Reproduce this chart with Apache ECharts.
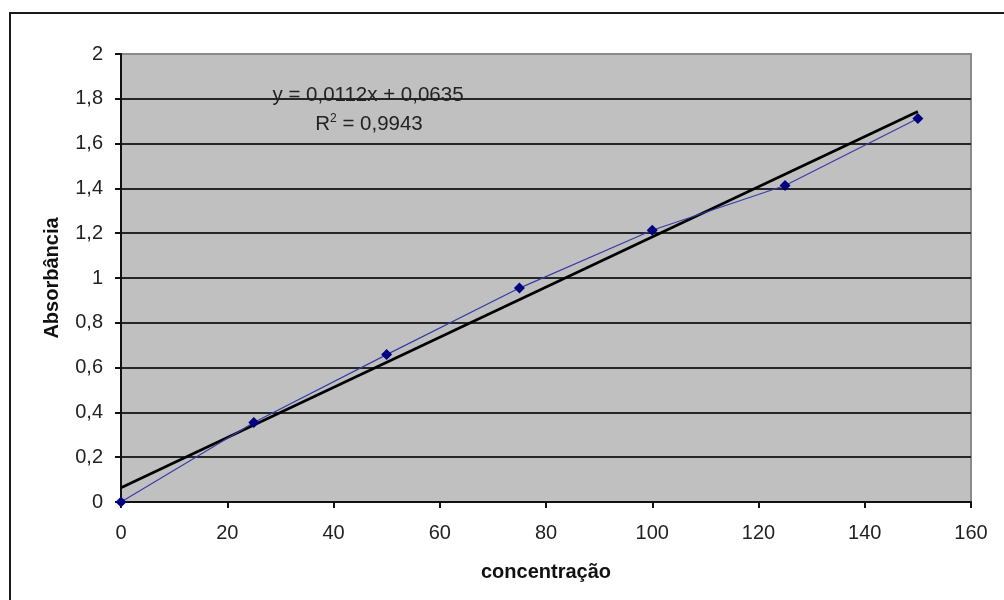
<!DOCTYPE html>
<html>
<head>
<meta charset="utf-8">
<script src="https://cdn.jsdelivr.net/npm/echarts@6/dist/echarts.min.js"></script>
<style>html,body{margin:0;padding:0;background:#fff}#c{width:1004px;height:600px}</style>
</head>
<body>
<div id="c"></div>
<script>
const concentracao = [0, 25, 50, 75, 100, 125, 150];
const absorbancia = [0, 0.355, 0.658, 0.955, 1.213, 1.413, 1.712];
const trendX = [0, 150];
const trendY = [0.0635, 1.7435];
const equationText = 'y = 0,0112x + 0,0635';
const r2Value = '0,9943';

const chart = echarts.init(document.getElementById('c'));
const fmt = v => String(Math.round(v * 10) / 10).replace('.', ',');
const gridColors = ['#262626','#262626','#262626','#262626','#262626','#262626','#262626','#262626','#262626','#262626','#8a8a8a'];
chart.setOption({
  animation: false,
  textStyle: { fontFamily: 'Liberation Sans, Arial, sans-serif' },
  grid: { left: 121, top: 54, width: 850, height: 448, show: true, backgroundColor: '#c0c0c0', borderColor: '#8a8a8a', borderWidth: 2 },
  graphic: [
    { type: 'rect', shape: { x: 10, y: 13, width: 1200, height: 800 }, style: { fill: 'none', stroke: '#1a1a1a', lineWidth: 2 }, silent: true, z: -10 },
    { type: 'text', x: 368, y: 95, style: { text: equationText, font: '20.5px Liberation Sans, Arial, sans-serif', fill: '#222', align: 'center', verticalAlign: 'middle' }, z: 100 },
    { type: 'text', x: 369, y: 124, style: { text: '{a|R}{s|2}{a| = ' + r2Value + '}', align: 'center', verticalAlign: 'middle', fill: '#222',
        rich: { a: { fontSize: 20.5, fontFamily: 'Liberation Sans, Arial, sans-serif', fill: '#222', verticalAlign: 'bottom' }, s: { fontSize: 12, fontFamily: 'Liberation Sans, Arial, sans-serif', fill: '#222', verticalAlign: 'top', padding: [0, 0, 10, 0] } } }, z: 100 }
  ],
  xAxis: {
    type: 'value', min: 0, max: 160, interval: 20,
    name: 'concentração', nameLocation: 'middle', nameGap: 60,
    nameTextStyle: { fontSize: 20, fontWeight: 'bold', color: '#111' },
    axisLine: { show: true, onZero: false, lineStyle: { color: '#111', width: 2 } },
    axisTick: { show: true, inside: false, length: 6, lineStyle: { color: '#111', width: 2 } },
    axisLabel: { fontSize: 20, color: '#222', margin: 21 },
    splitLine: { show: false }
  },
  yAxis: {
    type: 'value', min: 0, max: 2, interval: 0.2,
    name: 'Absorbância', nameLocation: 'middle', nameGap: 59, nameRotate: 90,
    nameTextStyle: { fontSize: 20, fontWeight: 'bold', color: '#111' },
    axisLine: { show: true, lineStyle: { color: '#111', width: 2 } },
    axisTick: { show: true, inside: false, length: 6, lineStyle: { color: '#111', width: 2 } },
    axisLabel: { fontSize: 20, color: '#222', margin: 18, formatter: fmt },
    splitLine: { show: true, lineStyle: { color: gridColors, width: 2 } }
  },
  series: [
    { type: 'line', data: trendX.map((x, i) => [x, trendY[i]]), showSymbol: false, symbol: 'none',
      lineStyle: { color: '#000', width: 2.6 }, z: 2, silent: true },
    { type: 'line', data: concentracao.map((x, i) => [x, absorbancia[i]]), symbol: 'diamond', symbolSize: 11,
      itemStyle: { color: '#000080' }, lineStyle: { color: '#3a3aa8', width: 1.2 }, z: 3 }
  ]
});
</script>
</body>
</html>
